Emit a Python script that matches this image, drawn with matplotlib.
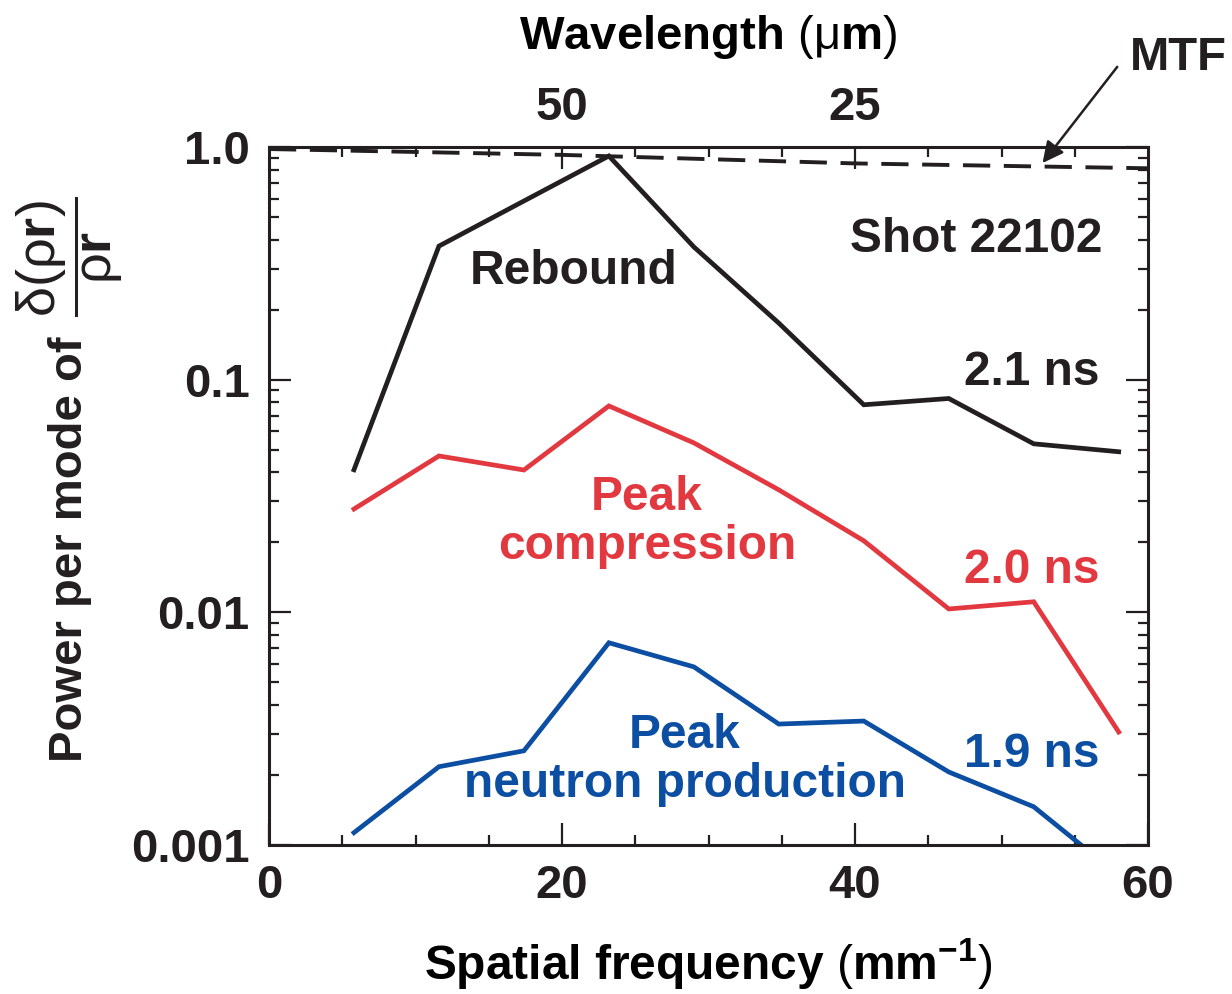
import numpy as np
import matplotlib
matplotlib.use("Agg")
import matplotlib.pyplot as plt
from matplotlib.ticker import FixedLocator, LogLocator, NullFormatter

plt.rcParams['font.family'] = ['Liberation Sans', 'DejaVu Sans']
plt.rcParams['font.weight'] = 'bold'
plt.rcParams['axes.labelweight'] = 'bold'
plt.rcParams['mathtext.fontset'] = 'custom'
plt.rcParams['mathtext.rm'] = 'Liberation Sans:weight=normal'
plt.rcParams['mathtext.bf'] = 'Liberation Sans:bold'
plt.rcParams['mathtext.it'] = 'Liberation Sans:italic'

# spatial frequency of each mode (mm^-1)
freq = [5.8, 11.6, 17.4, 23.2, 29.0, 34.8, 40.6, 46.4, 52.2, 58.0]

# power per mode
rebound = [0.041, 0.375, 0.586, 0.915, 0.372, 0.175, 0.078, 0.083, 0.053, 0.049]     # 2.1 ns
compression = [0.0278, 0.047, 0.0409, 0.0771, 0.0535, 0.0336, 0.0203, 0.01034, 0.0111, 0.00306]  # 2.0 ns
neutron = [0.00113, 0.00217, 0.00254, 0.0074, 0.00583, 0.00331, 0.00341, 0.00206, 0.00146, 0.00074]  # 1.9 ns

# MTF of the imaging system
mtf_freq = [0, 20, 40, 60]
mtf = [0.98, 0.925, 0.85, 0.81]

# top axis: wavelength (um) = 1000 / frequency
wl_labels = ['50', '25']
wl_freq = [1000 / 50, 1000 / 25]

black = '#231f20'
red = '#e2383f'
blue = '#0c4ea2'

W, H = 1232, 994
fig = plt.figure(figsize=(W / 100, H / 100), dpi=100)
ax = fig.add_axes([269 / W, 1 - 845 / H, (1148 - 269) / W, (845 - 147) / H])

ax.plot(mtf_freq, mtf, color=black, lw=2.8, ls=(0, (7, 3.5)))
ax.plot(freq, rebound, color=black, lw=3.4, solid_joinstyle='miter')
ax.plot(freq, compression, color=red, lw=3.4, solid_joinstyle='miter')
ax.plot(freq, neutron, color=blue, lw=3.4, solid_joinstyle='miter')

ax.set_yscale('log')
ax.set_xlim(0, 60)
ax.set_ylim(0.001, 1.0)

ax.xaxis.set_major_locator(FixedLocator([0, 20, 40, 60]))
ax.xaxis.set_minor_locator(FixedLocator(np.arange(5, 60, 5)))
ax.yaxis.set_major_locator(FixedLocator([0.001, 0.01, 0.1, 1.0]))
ax.set_yticklabels(['0.001', '0.01', '0.1', '1.0'])
ax.yaxis.set_minor_locator(LogLocator(base=10, subs=np.arange(2, 10)))
ax.yaxis.set_minor_formatter(NullFormatter())

ax.tick_params(which='both', direction='in', width=1.6, colors=black,
               labelsize=34, right=True, top=False)
ax.tick_params(which='major', length=16, pad=14)
ax.tick_params(which='minor', length=7)
for s in ax.spines.values():
    s.set_linewidth(2.2)
    s.set_color(black)

ax.set_xlabel(r'Spatial frequency $\mathrm{(}$mm$^{\mathbf{-1}}\mathrm{)}$', fontsize=34.5,
              fontweight='bold', labelpad=20)

# y label: text plus the delta(rho r)/(rho r) fraction
fig.text(82 / W, 1 - 549 / H, 'Power per mode of', fontsize=34, fontweight='bold', color=black,
         rotation=90, rotation_mode='anchor', ha='center', va='baseline')
fig.text(70 / W, 1 - 257 / H,
         r'$\dfrac{\mathrm{\delta(\rho}\mathbf{r}\mathrm{)}}{\mathrm{\rho}\mathbf{r}}$',
         fontsize=39, color=black, rotation=90, rotation_mode='anchor', ha='center', va='center')

top = ax.twiny()
top.set_xlim(ax.get_xlim())
top.xaxis.set_major_locator(FixedLocator(wl_freq))
top.set_xticklabels(wl_labels)
top.xaxis.set_minor_locator(FixedLocator([5, 10, 15, 25, 30, 35, 45, 50, 55]))
top.tick_params(which='both', direction='in', width=1.6, colors=black, labelsize=34)
top.tick_params(which='major', length=16, pad=12)
top.tick_params(which='minor', length=7)
for s in top.spines.values():
    s.set_visible(False)
top.set_xlabel(r'Wavelength $\mathrm{(\mu}$m$\mathrm{)}$', fontsize=34, fontweight='bold',
               labelpad=27)

ax.text(20.8, 0.293, 'Rebound', color=black, fontsize=34.5, ha='center', va='center')
ax.text(56.9, 0.40, 'Shot 22102', color=black, fontsize=34.5, ha='right', va='center')
ax.text(56.7, 0.107, '2.1 ns', color=black, fontsize=34.5, ha='right', va='center')
ax.text(25.8, 0.0245, 'Peak\ncompression', color=red, fontsize=34.5, ha='center', va='center',
        linespacing=1.1)
ax.text(56.7, 0.0151, '2.0 ns', color=red, fontsize=34.5, ha='right', va='center')
ax.text(28.4, 0.00232, 'Peak\nneutron production', color=blue, fontsize=34.5, ha='center',
        va='center', linespacing=1.1)
ax.text(56.7, 0.00244, '1.9 ns', color=blue, fontsize=34.5, ha='right', va='center')

ax.annotate('', xy=(52.8, 0.853), xytext=(57.9, 2.21), annotation_clip=False,
            arrowprops=dict(arrowstyle='-|>', color=black, lw=1.8, mutation_scale=32,
                            shrinkA=0, shrinkB=0))
ax.text(62.05, 2.41, 'MTF', color=black, fontsize=34, ha='center', va='center', clip_on=False)

fig.savefig('out.png', dpi=100)
